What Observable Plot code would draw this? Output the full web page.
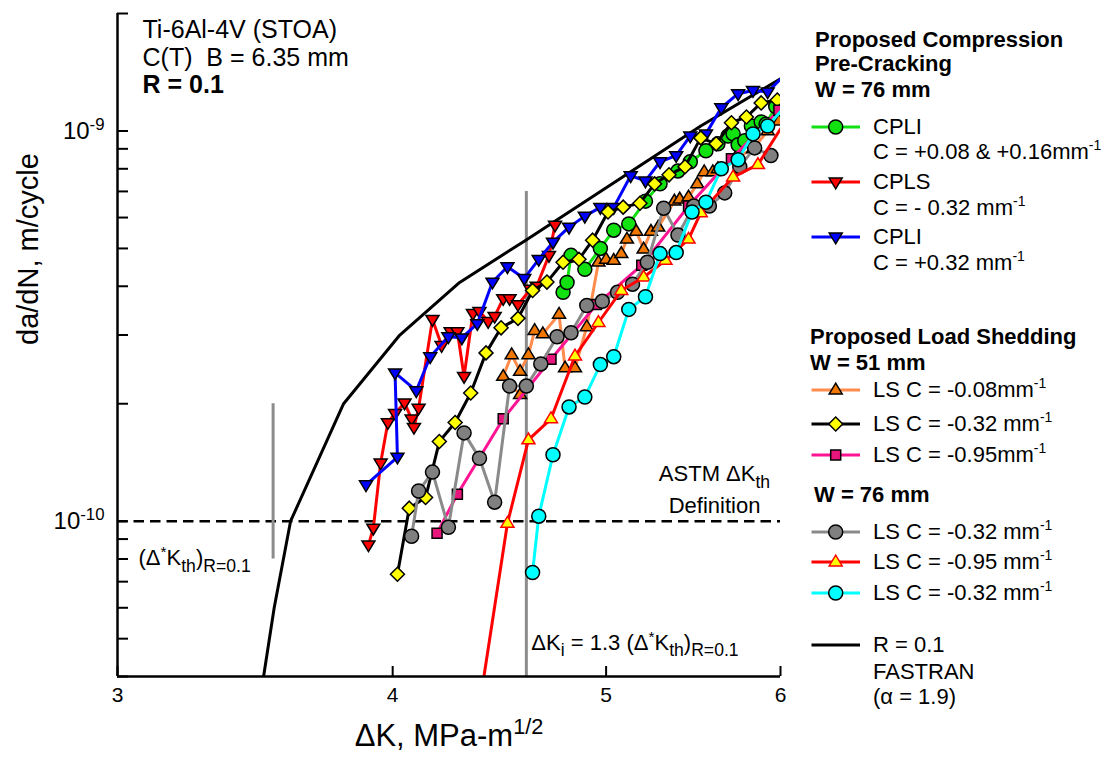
<!DOCTYPE html>
<html>
<head>
<meta charset="utf-8">
<script src="https://cdn.jsdelivr.net/npm/d3@7"></script>
<script src="https://cdn.jsdelivr.net/npm/@observablehq/plot@0.6"></script>
<style>
  body { margin: 0; background: #fff; }
  #wrap { position: relative; width: 1107px; height: 773px; font-family: "Liberation Sans", Arial, sans-serif; color: #000; }
  #wrap > svg { position: absolute; left: 0; top: 0; }
  .lt { position: absolute; font-size: 22px; line-height: 26px; white-space: pre; }
  .lb { font-weight: bold; }
  .sup { font-size: 14px; position: relative; top: -9px; }
</style>
</head>
<body>
<div id="wrap"><div id="legend"></div></div>
<script>
// ---------------- data (ΔK in MPa·m^1/2, da/dN in m/cycle) ----------------
const cpliGreen = [[4.78,3.86e-10],[4.80,4.09e-10],[4.82,4.8e-10],[4.89,4.42e-10],[4.97,5.0e-10],[5.04,5.57e-10],[5.12,5.78e-10],[5.21,6.61e-10],[5.29,7.32e-10],[5.39,7.9e-10],[5.46,8.34e-10],[5.55,8.9e-10],[5.62,9.27e-10],[5.68,9.71e-10],[5.71,9.83e-10],[5.74,9.22e-10],[5.78,9.44e-10],[5.82,1.03e-9],[5.88,1.055e-9],[5.91,1.04e-9],[5.97,1.155e-9]];
const cplsRed = [[3.90,8.7e-11],[3.92,9.6e-11],[3.95,1.41e-10],[3.98,1.79e-10],[4.01,1.89e-10],[4.05,2.01e-10],[4.08,1.83e-10],[4.09,1.74e-10],[4.11,1.95e-10],[4.17,3.29e-10],[4.21,2.82e-10],[4.25,3.06e-10],[4.28,3.06e-10],[4.31,2.35e-10],[4.35,3.41e-10],[4.38,3.45e-10],[4.42,3.25e-10],[4.45,3.35e-10],[4.49,3.72e-10],[4.52,3.72e-10],[4.56,3.59e-10],[4.62,3.93e-10],[4.65,4.0e-10],[4.71,4.8e-10],[4.74,5.74e-10]];
const cpliBlue = [[3.89,1.24e-10],[4.02,1.46e-10],[4.01,2.40e-10],[4.10,2.16e-10],[4.16,2.64e-10],[4.24,2.97e-10],[4.30,2.95e-10],[4.37,3.21e-10],[4.44,4.10e-10],[4.51,4.49e-10],[4.59,4.19e-10],[4.66,4.69e-10],[4.73,5.19e-10],[4.81,5.67e-10],[4.89,6.05e-10],[4.97,6.37e-10],[5.04,6.37e-10],[5.13,7.68e-10],[5.21,7.45e-10],[5.29,8.34e-10],[5.38,8.65e-10],[5.46,9.71e-10],[5.55,9.83e-10],[5.64,1.147e-9],[5.74,1.246e-9],[5.83,1.27e-9],[5.92,1.26e-9],[6.05,1.42e-9]];
const lsW51C008 = [[4.57,2.11e-10],[4.49,2.35e-10],[4.53,2.67e-10],[4.57,2.42e-10],[4.61,2.67e-10],[4.64,3.08e-10],[4.68,3.02e-10],[4.76,3.39e-10],[4.79,2.47e-10],[4.84,2.47e-10],[4.90,3.15e-10],[4.96,4.61e-10],[5.00,4.69e-10],[5.04,4.66e-10],[5.08,4.85e-10],[5.11,5.28e-10],[5.16,5.53e-10],[5.20,4.98e-10],[5.24,5.53e-10],[5.28,5.67e-10],[5.37,6.61e-10],[5.40,6.69e-10],[5.45,6.77e-10],[5.50,7.32e-10],[5.54,7.86e-10],[5.59,7.86e-10],[5.62,8.0e-10],[5.72,8.49e-10],[5.83,9.0e-10],[5.92,1.0e-9],[5.99,1.06e-9]];
const lsW51C032 = [[4.02,7.31e-11],[4.07,1.08e-10],[4.14,1.15e-10],[4.20,1.60e-10],[4.27,1.79e-10],[4.34,2.13e-10],[4.41,2.70e-10],[4.48,3.13e-10],[4.56,3.31e-10],[4.63,3.90e-10],[4.70,4.10e-10],[4.78,4.61e-10],[4.86,4.69e-10],[4.93,5.25e-10],[5.01,6.20e-10],[5.09,6.38e-10],[5.18,6.53e-10],[5.26,7.32e-10],[5.34,7.72e-10],[5.43,8.10e-10],[5.52,9.60e-10],[5.61,9.27e-10],[5.70,1.05e-9],[5.79,1.086e-9],[5.88,1.18e-9],[5.98,1.20e-9]];
const lsW51C095 = [[4.19,9.32e-11],[4.28,1.173e-10],[4.49,1.83e-10],[4.72,2.60e-10],[4.95,3.59e-10],[5.19,4.53e-10],[5.45,6.42e-10],[5.70,8.49e-10],[5.99,1.13e-9]];
const lsW76C032a = [[4.08,9.15e-11],[4.11,1.195e-10],[4.17,1.336e-10],[4.24,9.65e-11],[4.31,1.684e-10],[4.38,1.45e-10],[4.45,1.119e-10],[4.52,2.22e-10],[4.60,2.22e-10],[4.67,2.53e-10],[4.75,2.97e-10],[4.82,3.04e-10],[4.90,3.57e-10],[4.98,3.66e-10],[5.06,3.86e-10],[5.14,4.05e-10],[5.22,4.61e-10],[5.31,6.34e-10],[5.39,5.41e-10],[5.48,6.42e-10],[5.57,6.42e-10],[5.66,6.94e-10],[5.75,8.1e-10],[5.84,9.05e-10],[5.94,8.65e-10]];
const lsW76C095 = [[4.37,3.1e-11],[4.51,9.88e-11],[4.61,1.616e-10],[4.72,1.83e-10],[4.84,2.65e-10],[4.96,3.23e-10],[5.08,3.90e-10],[5.20,4.22e-10],[5.32,4.66e-10],[5.45,5.28e-10],[5.52,6.17e-10],[5.71,7.62e-10],[5.86,8.2e-10],[6.05,1.09e-9]];
const lsW76C032b = [[4.63,7.39e-11],[4.66,1.03e-10],[4.73,1.48e-10],[4.81,1.963e-10],[4.89,2.08e-10],[4.97,2.52e-10],[5.04,2.64e-10],[5.12,3.49e-10],[5.21,3.76e-10],[5.29,4.85e-10],[5.38,4.88e-10],[5.47,6.20e-10],[5.55,6.57e-10],[5.64,8.0e-10],[5.74,8.44e-10],[5.83,9.83e-10],[5.92,1.03e-9],[6.05,1.18e-9]];
const fastran = [[3.485,3.5e-11],[3.495,4.0e-11],[3.534,6.0e-11],[3.595,1.0e-10],[3.80,2.0e-10],[4.03,3.0e-10],[4.29,4.09e-10],[4.59,5.22e-10],[5.52,1.03e-9],[6.0,1.36e-9]];

const astmLevel = [1e-10];
const thresholdLines = [[3.53, 8.0e-11, 2.0e-10], [4.6, 4.0e-11, 7.0e-10]];
const xTicks = [3, 4, 5, 6];
const xTickLabels = ["3", "4", "5", "6"];
const yMajor = [1e-10, 1e-9];
const yTickLabels = ["10^{-10}", "10^{-9}"];
const yMinor = [4e-11,5e-11,6e-11,7e-11,8e-11,9e-11,1e-10,2e-10,3e-10,4e-10,5e-10,6e-10,7e-10,8e-10,9e-10,1e-9,2e-9];
const titleLines = ["Ti-6Al-4V (STOA)", "C(T)\u00a0 B = 6.35 mm", "R = 0.1"];
const xLabel = "ΔK, MPa-m^{1/2}";
const yLabel = "da/dN, m/cycle";

// ---------------- symbols ----------------
const rad = s => Math.sqrt(s / Math.PI);
const triDown = {draw(c, s) { const r = rad(s); c.moveTo(-r, -0.6*r); c.lineTo(r, -0.6*r); c.lineTo(0, 1.05*r); c.closePath(); }};
const triUp = {draw(c, s) { const r = rad(s); c.moveTo(-r, 0.6*r); c.lineTo(r, 0.6*r); c.lineTo(0, -1.05*r); c.closePath(); }};
const diamond = {draw(c, s) { const r = rad(s); c.moveTo(0, -r); c.lineTo(r, 0); c.lineTo(0, r); c.lineTo(-r, 0); c.closePath(); }};
const square = {draw(c, s) { const r = rad(s); c.rect(-r, -r, 2*r, 2*r); }};
const circle = {draw(c, s) { const r = rad(s); c.moveTo(r, 0); c.arc(0, 0, r, 0, 2*Math.PI); c.closePath(); }};

const series = [
  {data: cpliGreen, line: "#11e011", fill: "#11e011", stroke: "#000", sym: circle, r: 7},
  {data: cplsRed, line: "#ff0000", fill: "#ff0000", stroke: "#000", sym: triDown, r: 6.5},
  {data: cpliBlue, line: "#0000ff", fill: "#0000ff", stroke: "#000", sym: triDown, r: 6.5},
  {data: lsW51C008, line: "#ff8c4c", fill: "#f07800", stroke: "#000", sym: triUp, r: 6.5},
  {data: lsW51C032, line: "#000000", fill: "#ffff00", stroke: "#000", sym: diamond, r: 7},
  {data: lsW51C095, line: "#ff1493", fill: "#e8157c", stroke: "#000", sym: square, r: 5},
  {data: lsW76C032a, line: "#8a8a8a", fill: "#808080", stroke: "#000", sym: circle, r: 7},
  {data: lsW76C095, line: "#ff0000", fill: "#ffff00", stroke: "#ff0000", sym: triUp, r: 6.5},
  {data: lsW76C032b, line: "#00ffff", fill: "#00ffff", stroke: "#000", sym: circle, r: 7}
];

const X = d => d[0], Y = d => d[1];
const marks = [
  Plot.ruleY(astmLevel, {y: d => d, stroke: "#000", strokeWidth: 2.5, strokeDasharray: "10.5,6"}),
  Plot.ruleX(thresholdLines, {x: d => d[0], y1: d => d[1], y2: d => d[2], stroke: "#8c8c8c", strokeWidth: 3}),
  Plot.line(fastran, {x: X, y: Y, stroke: "#000", strokeWidth: 3, clip: true})
];
for (const s of series) {
  marks.push(Plot.line(s.data, {x: X, y: Y, stroke: s.line, strokeWidth: 3, clip: true}));
  marks.push(Plot.dot(s.data, {x: X, y: Y, symbol: s.sym, r: s.r, fill: s.fill, stroke: s.stroke, strokeWidth: 1.5, clip: true}));
}
marks.push(
  Plot.ruleX([3], {x: d => d, stroke: "#000", strokeWidth: 2.5}),
  Plot.ruleY([4e-11], {y: d => d, stroke: "#000", strokeWidth: 2.5}),
  Plot.tickY(yMinor, {y: d => d, insetRight: 652, stroke: "#000", strokeWidth: 2}),
  Plot.tickX(xTicks, {x: d => d, insetTop: 653, stroke: "#000", strokeWidth: 2}),
  Plot.text(xTicks, {x: d => d, frameAnchor: "bottom", dy: 25, text: (d, i) => xTickLabels[i], fontSize: 21}),
  Plot.text(yMajor, {y: d => d, frameAnchor: "left", dx: -13, textAnchor: "end", text: (d, i) => yTickLabels[i], fontSize: 24}),
  Plot.text([yLabel], {frameAnchor: "left", dx: -89, rotate: -90, text: d => d, fontSize: 29}),
  Plot.text([xLabel], {frameAnchor: "bottom", dy: 69, text: d => d, fontSize: 31}),
  Plot.text([titleLines[0]], {frameAnchor: "top-left", dx: 25, dy: 7, textAnchor: "start", text: d => d, fontSize: 25}),
  Plot.text([titleLines[1]], {frameAnchor: "top-left", dx: 25, dy: 35, textAnchor: "start", text: d => d, fontSize: 25}),
  Plot.text([titleLines[2]], {frameAnchor: "top-left", dx: 25, dy: 62, textAnchor: "start", text: d => d, fontSize: 25, fontWeight: "bold"}),
  Plot.text(["ASTM ΔK_{th}"], {x: 5.6, y: 1e-10, dy: -47, text: d => d, fontSize: 22}),
  Plot.text(["Definition"], {x: 5.6, y: 1e-10, dy: -15, text: d => d, fontSize: 22}),
  Plot.text(["(Δ^{*}K_{th})_{R=0.1}"], {frameAnchor: "left", y: 1e-10, dx: 21, dy: 37, textAnchor: "start", text: d => d, fontSize: 22}),
  Plot.text(["ΔK_{i} = 1.3 (Δ^{*}K_{th})_{R=0.1}"], {x: 4.6, frameAnchor: "bottom", dx: 5, dy: -27, textAnchor: "start", text: d => d, fontSize: 22})
);

const plot = Plot.plot({
  width: 1107, height: 773,
  marginLeft: 117, marginRight: 327, marginTop: 13, marginBottom: 97,
  x: {type: "log", domain: [3, 6], axis: null},
  y: {type: "log", domain: [4e-11, 2e-9], axis: null},
  style: {fontFamily: "'Liberation Sans', Arial, sans-serif", background: "white", color: "#000", overflow: "visible"},
  marks
});
const wrap = document.getElementById("wrap");
wrap.insertBefore(plot, wrap.firstChild);

// rich text: _{sub} and ^{sup}
function richSvg(el) {
  const s = el.textContent;
  const fs = parseFloat(getComputedStyle(el).fontSize) || 22;
  const parts = s.split(/(_\{[^}]*\}|\^\{[^}]*\})/).filter(p => p);
  el.textContent = "";
  let shift = 0;
  for (const p of parts) {
    let target = 0, txt = p, size = null;
    if (p.startsWith("_{")) { target = 0.3 * fs; txt = p.slice(2, -1); size = 0.8 * fs; }
    else if (p.startsWith("^{")) { target = -0.36 * fs; txt = p.slice(2, -1); size = 0.7 * fs; }
    const t = document.createElementNS("http://www.w3.org/2000/svg", "tspan");
    if (target - shift !== 0) t.setAttribute("dy", target - shift);
    if (size) t.setAttribute("font-size", size);
    t.textContent = txt;
    el.appendChild(t);
    shift = target;
  }
}
d3.select(plot).selectAll("text").each(function () {
  if (/[_^]\{/.test(this.textContent)) richSvg(this);
});

// ---------------- legend ----------------
const legend = d3.select("#legend");
const html = s => s.replace(/\^\{([^}]*)\}/g, '<span class="sup">$1</span>');
function text(str, x, y, bold) {
  legend.append("div").attr("class", "lt" + (bold ? " lb" : "")).style("left", x + "px").style("top", (y - 13) + "px").html(html(str));
}
function swatch(y, s) {
  const svg = legend.append("svg").style("position", "absolute").style("left", "806px").style("top", (y - 10) + "px").attr("width", 60).attr("height", 20);
  svg.append("line").attr("x1", 5.5).attr("x2", 54).attr("y1", 10).attr("y2", 10).attr("stroke", s.line).attr("stroke-width", 3);
  if (s.sym) svg.append("path").attr("transform", "translate(29.7,10)").attr("d", d3.symbol(s.sym, s.r * s.r * Math.PI)()).attr("fill", s.fill).attr("stroke", s.stroke).attr("stroke-width", 1.5);
}
text("Proposed Compression", 815, 40, true);
text("Pre-Cracking", 815, 64, true);
text("W = 76 mm", 815, 90, true);
swatch(127, series[0]); text("CPLI", 873, 127); text("C = +0.08 & +0.16mm^{-1}", 873, 152);
swatch(182, series[1]); text("CPLS", 873, 182); text("C = - 0.32 mm^{-1}", 873, 208);
swatch(237, series[2]); text("CPLI", 873, 237); text("C = +0.32 mm^{-1}", 873, 263);
text("Proposed Load Shedding", 810, 337, true);
text("W = 51 mm", 810, 363, true);
swatch(390, series[3]); text("LS C = -0.08mm^{-1}", 873, 390);
swatch(424, series[4]); text("LS C = -0.32 mm^{-1}", 873, 424);
swatch(455, series[5]); text("LS C = -0.95mm^{-1}", 873, 455);
text("W = 76 mm", 814, 495, true);
swatch(532, series[6]); text("LS C = -0.32 mm^{-1}", 873, 532);
swatch(562, series[7]); text("LS C = -0.95 mm^{-1}", 873, 562);
swatch(593, series[8]); text("LS C = -0.32 mm^{-1}", 873, 593);
swatch(645, {line: "#000"}); text("R = 0.1", 873, 645); text("FASTRAN", 873, 672); text("(α = 1.9)", 873, 697);
</script>
</body>
</html>
